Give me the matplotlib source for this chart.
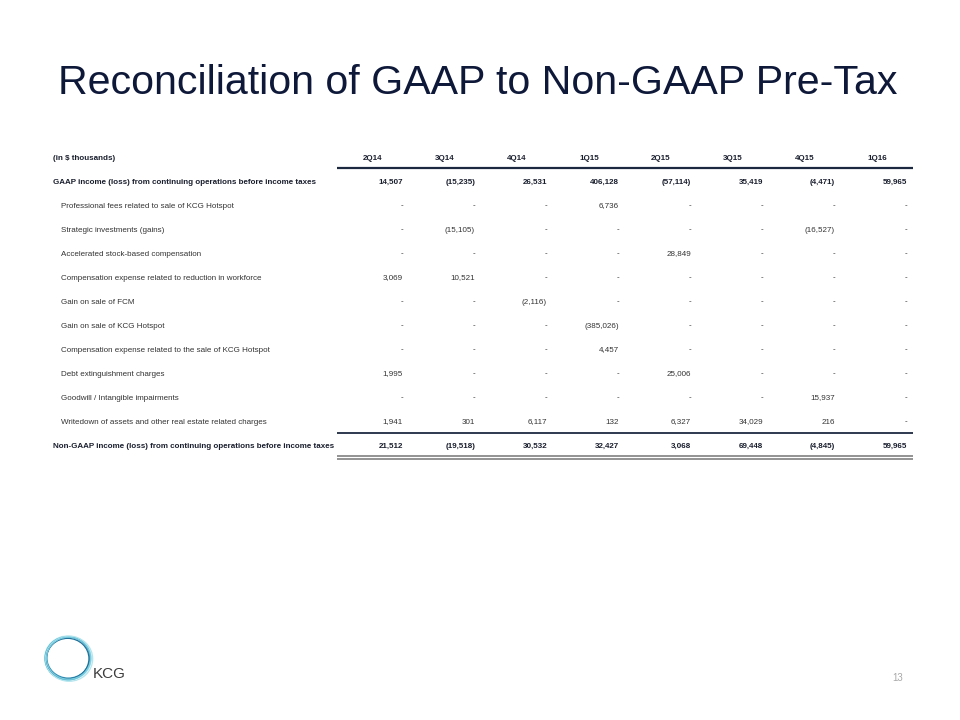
import matplotlib
matplotlib.use("Agg")
import matplotlib.pyplot as plt
from matplotlib.patches import Ellipse

plt.rcParams['font.family'] = ['Liberation Sans', 'DejaVu Sans']

title = "Reconciliation of GAAP to Non-GAAP Pre-Tax"
unit_label = "(in $ thousands)"
periods = ["2Q14", "3Q14", "4Q14", "1Q15", "2Q15", "3Q15", "4Q15", "1Q16"]

row_labels = [
    "GAAP income (loss) from continuing operations before income taxes",
    "Professional fees related to sale of KCG Hotspot",
    "Strategic investments (gains)",
    "Accelerated stock-based compensation",
    "Compensation expense related to reduction in workforce",
    "Gain on sale of FCM",
    "Gain on sale of KCG Hotspot",
    "Compensation expense related to the sale of KCG Hotspot",
    "Debt extinguishment charges",
    "Goodwill / Intangible impairments",
    "Writedown of assets and other real estate related charges",
    "Non-GAAP income (loss) from continuing operations before income taxes",
]

gaap = [14507, -15235, 26531, 406128, -57114, 35419, -4471, 59965]
prof_fees = [None, None, None, 6736, None, None, None, None]
strategic = [None, -15105, None, None, None, None, -16527, None]
accel_comp = [None, None, None, None, 28849, None, None, None]
comp_reduction = [3069, 10521, None, None, None, None, None, None]
gain_fcm = [None, None, -2116, None, None, None, None, None]
gain_hotspot = [None, None, None, -385026, None, None, None, None]
comp_sale = [None, None, None, 4457, None, None, None, None]
debt = [1995, None, None, None, 25006, None, None, None]
goodwill = [None, None, None, None, None, None, 15937, None]
writedown = [1941, 301, 6117, 132, 6327, 34029, 216, None]
non_gaap = [21512, -19518, 30532, 32427, 3068, 69448, -4845, 59965]

rows = [gaap, prof_fees, strategic, accel_comp, comp_reduction, gain_fcm,
        gain_hotspot, comp_sale, debt, goodwill, writedown, non_gaap]
bold_rows = {0, len(rows) - 1}

page_number = "13"
logo_text = "KCG"


def fmt(v):
    if v is None:
        return "-"
    if v < 0:
        return "({:,})".format(-v)
    return "{:,}".format(v)


fig = plt.figure(figsize=(9.6, 7.2), dpi=100)
ax = fig.add_axes([0, 0, 1, 1])
ax.set_xlim(0, 960)
ax.set_ylim(720, 0)
ax.axis('off')

navy = '#0e1838'
text_dark = '#1a1f2e'
text_reg = '#333333'

# Title
ax.text(477.5, 94, title, ha='center', va='baseline', fontsize=29.65, color=navy)

# layout
label_x = 53
indent_x = 61
col_right0 = 403
col_step = 72
fs = 5.75
header_y = 157
row_y0 = 181
row_step = 24

ax.text(label_x, header_y, unit_label, ha='left', va='center_baseline', fontsize=fs,
        fontweight='bold', color=text_dark)
for j, p in enumerate(periods):
    ax.text(col_right0 + col_step * j - 30, header_y, p, ha='center', va='center_baseline',
            fontsize=fs, fontweight='bold', color=text_dark)

for i, (lab, vals) in enumerate(zip(row_labels, rows)):
    y = row_y0 + row_step * i
    bold = i in bold_rows
    ax.text(label_x if bold else indent_x, y, lab, ha='left', va='center_baseline', fontsize=fs,
            fontweight='bold' if bold else 'normal',
            color=text_dark if bold else text_reg)
    for j, v in enumerate(vals):
        ax.text(col_right0 + col_step * j, y, fmt(v), ha='right', va='center_baseline',
                fontsize=fs, fontweight='bold' if bold else 'normal',
                color=text_dark if bold else text_reg)

line_x0, line_x1 = 337, 913
ax.plot([line_x0, line_x1], [168, 168], color='#1c2740', lw=1.6, solid_capstyle='butt')
ax.plot([line_x0, line_x1], [433, 433], color='#1c2740', lw=1.3, solid_capstyle='butt')
ax.plot([line_x0, line_x1], [455.5, 455.5], color='#808080', lw=1.2, solid_capstyle='butt')
ax.plot([line_x0, line_x1], [458.5, 458.5], color='#808080', lw=1.2, solid_capstyle='butt')

# Logo
ring_colors = ['#d5f1f6', '#a0dde9', '#5cbfd5', '#2f8db2', '#b5e5ee', '#226f98', '#7acde0']
offsets = [(0, 0, 46.5, 44.5), (0.8, 0.5, 44.5, 42.5), (-0.6, 0.3, 45, 43.5),
           (0.3, -0.4, 43, 41), (1.2, 0.8, 47, 45), (-0.3, 0.6, 42.5, 40.5),
           (0.5, 0.2, 44, 42)]
for c, (dx, dy, w, h) in zip(ring_colors, offsets):
    ax.add_patch(Ellipse((68 + dx, 658 + dy), w, h, fill=False, edgecolor=c, lw=0.9))
ax.text(93, 678, logo_text, ha='left', va='baseline', fontsize=11, color='#3c3c3c')

ax.text(898, 677, page_number, ha='center', va='center_baseline', fontsize=7, color='#a8a8a8')

fig.savefig('out.png', dpi=100)
